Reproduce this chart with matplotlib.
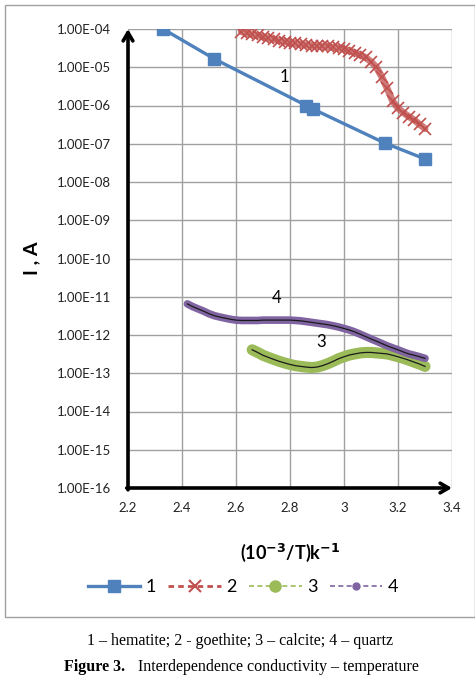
import matplotlib.pyplot as plt
import matplotlib.patches as mpatches
from matplotlib.lines import Line2D
from matplotlib.ticker import FixedLocator, FuncFormatter, NullLocator

# -----------------------------
# Data
# -----------------------------
x1 = [2.33, 2.52, 2.86, 2.885, 3.15, 3.30]
y1 = [1.0e-4, 1.65e-5, 1.0e-6, 8.1e-7, 1.05e-7, 4.0e-8]

x2 = [2.62, 2.64, 2.66, 2.68, 2.70, 2.72, 2.74, 2.76, 2.78, 2.80, 2.82, 2.84,
      2.86, 2.88, 2.90, 2.92, 2.94, 2.96, 2.98, 3.00, 3.02, 3.04, 3.06, 3.08,
      3.10, 3.12, 3.14, 3.16, 3.18, 3.20, 3.22, 3.24, 3.26, 3.28, 3.30]
y2 = [8.5e-5, 7.8e-5, 7.2e-5, 6.8e-5, 6.2e-5, 5.8e-5, 5.4e-5, 5.0e-5, 4.7e-5,
      4.4e-5, 4.2e-5, 4.0e-5, 3.8e-5, 3.7e-5, 3.6e-5, 3.5e-5, 3.5e-5, 3.3e-5,
      3.2e-5, 3.0e-5, 2.7e-5, 2.4e-5, 2.1e-5, 1.8e-5, 1.4e-5, 1.0e-5, 5.6e-6,
      2.8e-6, 1.3e-6, 8.5e-7, 6.5e-7, 5.1e-7, 4.2e-7, 3.2e-7, 2.5e-7]

x3 = [2.66, 2.68, 2.70, 2.72, 2.74, 2.76, 2.78, 2.80, 2.82, 2.84, 2.86, 2.88,
      2.90, 2.92, 2.94, 2.96, 2.98, 3.00, 3.02, 3.04, 3.06, 3.08, 3.10, 3.12,
      3.14, 3.16, 3.18, 3.20, 3.22, 3.24, 3.26, 3.28, 3.30]
y3 = [4.1e-13, 3.5e-13, 2.95e-13, 2.6e-13, 2.3e-13, 2.05e-13, 1.86e-13, 1.7e-13,
      1.58e-13, 1.51e-13, 1.45e-13, 1.41e-13, 1.45e-13, 1.58e-13, 1.78e-13,
      2.05e-13, 2.4e-13, 2.7e-13, 3.0e-13, 3.2e-13, 3.4e-13, 3.5e-13, 3.5e-13,
      3.4e-13, 3.3e-13, 3.2e-13, 2.95e-13, 2.7e-13, 2.45e-13, 2.2e-13, 1.95e-13,
      1.74e-13, 1.51e-13]

x4 = [2.42, 2.44, 2.46, 2.48, 2.50, 2.52, 2.54, 2.56, 2.58, 2.60, 2.62, 2.64,
      2.66, 2.68, 2.70, 2.72, 2.74, 2.76, 2.78, 2.80, 2.82, 2.84, 2.86, 2.88,
      2.90, 2.92, 2.94, 2.96, 2.98, 3.00, 3.02, 3.04, 3.06, 3.08, 3.10, 3.12,
      3.14, 3.16, 3.18, 3.20, 3.22, 3.24, 3.26, 3.28, 3.30]
y4 = [6.5e-12, 5.5e-12, 4.8e-12, 4.2e-12, 3.6e-12, 3.2e-12, 2.95e-12, 2.75e-12,
      2.57e-12, 2.45e-12, 2.4e-12, 2.4e-12, 2.4e-12, 2.4e-12, 2.45e-12, 2.45e-12,
      2.45e-12, 2.45e-12, 2.45e-12, 2.45e-12, 2.4e-12, 2.34e-12, 2.24e-12,
      2.14e-12, 2.04e-12, 1.95e-12, 1.86e-12, 1.74e-12, 1.62e-12, 1.48e-12,
      1.35e-12, 1.2e-12, 1.05e-12, 9.1e-13, 7.9e-13, 6.9e-13, 6.0e-13, 5.2e-13,
      4.6e-13, 4.1e-13, 3.6e-13, 3.2e-13, 2.95e-13, 2.7e-13, 2.45e-13]

x_ticks = [2.2, 2.4, 2.6, 2.8, 3.0, 3.2, 3.4]
x_tick_labels = ["2.2", "2.4", "2.6", "2.8", "3", "3.2", "3.4"]
y_ticks = [10.0 ** -e for e in range(16, 3, -1)]

series_labels = ["1", "2", "3", "4"]
curve_labels = [("1", 2.78, 5.6e-6), ("4", 2.75, 9.5e-12), ("3", 2.915, 6.6e-13)]

# -----------------------------
# Figure
# -----------------------------
BLUE = "#4f81bd"
RED = "#c0504d"
GREEN = "#9bbb59"
PURPLE = "#8064a2"
SANS = ["Lato", "DejaVu Sans"]
SERIF = "Liberation Serif"

fig = plt.figure(figsize=(4.75, 6.77), dpi=100)
fig.patches.append(mpatches.Rectangle((5 / 475, 1 - 617 / 677), 470 / 475, 612 / 677,
                                      transform=fig.transFigure, fill=False,
                                      edgecolor="#a0a0a0", linewidth=1.0))

ax = fig.add_axes([128 / 475, 1 - 488 / 677, 324 / 475, 459 / 677])
ax.set_yscale("log")
ax.set_xlim(2.2, 3.4)
ax.set_ylim(1e-16, 1e-4)

# 1 - hematite
ax.plot(x1, y1, color=BLUE, lw=2.4, marker="s", ms=8, zorder=4)

# 2 - goethite: dense crosses forming a band
ax.plot(x2, y2, color=RED, lw=5, alpha=0.75, solid_capstyle="round", zorder=3)
ax.plot(x2, y2, color=RED, lw=0, marker="x", ms=9, mew=1.2, zorder=3)

# 3 - calcite, 4 - quartz: dense dots forming a band, dark line on top
ax.plot(x3, y3, color=GREEN, lw=8, solid_capstyle="round", zorder=3)
ax.plot(x3, y3, color="#1a1a1a", lw=0.9, zorder=5)
ax.plot(x4, y4, color=PURPLE, lw=5.5, solid_capstyle="round", zorder=3)
ax.plot(x4, y4, color="#1a1a1a", lw=0.9, zorder=5)

for txt, xv, yv in curve_labels:
    ax.text(xv, yv, txt, fontsize=12, family=SANS, ha="center", va="center", zorder=6)

ax.xaxis.set_major_locator(FixedLocator(x_ticks))
ax.set_xticklabels(x_tick_labels)
ax.yaxis.set_major_locator(FixedLocator(y_ticks))
ax.yaxis.set_minor_locator(NullLocator())
ax.yaxis.set_major_formatter(FuncFormatter(lambda v, p: f"{v:.2E}"))
ax.tick_params(length=0, labelsize=9.5, pad=12)
ax.tick_params(axis="x", pad=10)
for lab in ax.get_xticklabels() + ax.get_yticklabels():
    lab.set_family(SANS)
    lab.set_color("#222222")
ax.grid(True, color="#a0a0a0", lw=1.0)
for s in ax.spines.values():
    s.set_visible(False)

# axis arrows
ax.annotate("", xy=(0, 1.0), xytext=(0, -0.004), xycoords="axes fraction",
            arrowprops=dict(arrowstyle="->,head_length=0.6,head_width=0.35",
                            color="black", lw=2.6, shrinkA=0, shrinkB=0), zorder=7)
ax.annotate("", xy=(1.0, 0), xytext=(-0.004, 0), xycoords="axes fraction",
            arrowprops=dict(arrowstyle="->,head_length=0.6,head_width=0.35",
                            color="black", lw=2.6, shrinkA=0, shrinkB=0), zorder=7)

ax.set_xlabel(r"(10$^{\mathbf{-3}}$/T)k$^{\mathbf{-1}}$", fontsize=13,
              fontweight="bold", family=SANS, labelpad=20)
ax.set_ylabel("I , A", fontsize=14, fontweight="bold", family=SANS, labelpad=12)

handles = [
    Line2D([], [], color=BLUE, lw=2.4, marker="s", ms=8),
    Line2D([], [], color=RED, lw=2, ls=(0, (2, 1.5)), marker="x", ms=8, mew=1.5),
    Line2D([], [], color=GREEN, lw=1.2, ls=(0, (3, 2)), marker="o", ms=8),
    Line2D([], [], color=PURPLE, lw=1.2, ls=(0, (3, 2)), marker="o", ms=5),
]
fig.legend(handles, series_labels, loc="center",
           bbox_to_anchor=(243 / 475, 1 - 587 / 677), ncol=4, frameon=False,
           prop={"family": SANS, "size": 13}, handlelength=2.9,
           columnspacing=0.7, handletextpad=0.3)

fig.text(240 / 475, 1 - 641 / 677, "1 – hematite; 2 - goethite; 3 – calcite; 4 – quartz",
         ha="center", va="center", fontsize=11.5, family=SERIF)
fig.text(125 / 475, 1 - 667 / 677, "Figure 3.", ha="right", va="center", fontsize=11.5,
         fontweight="bold", family=SERIF)
fig.text(138 / 475, 1 - 667 / 677, "Interdependence conductivity – temperature",
         ha="left", va="center", fontsize=11.5, family=SERIF)

fig.savefig("out.png", dpi=100)
